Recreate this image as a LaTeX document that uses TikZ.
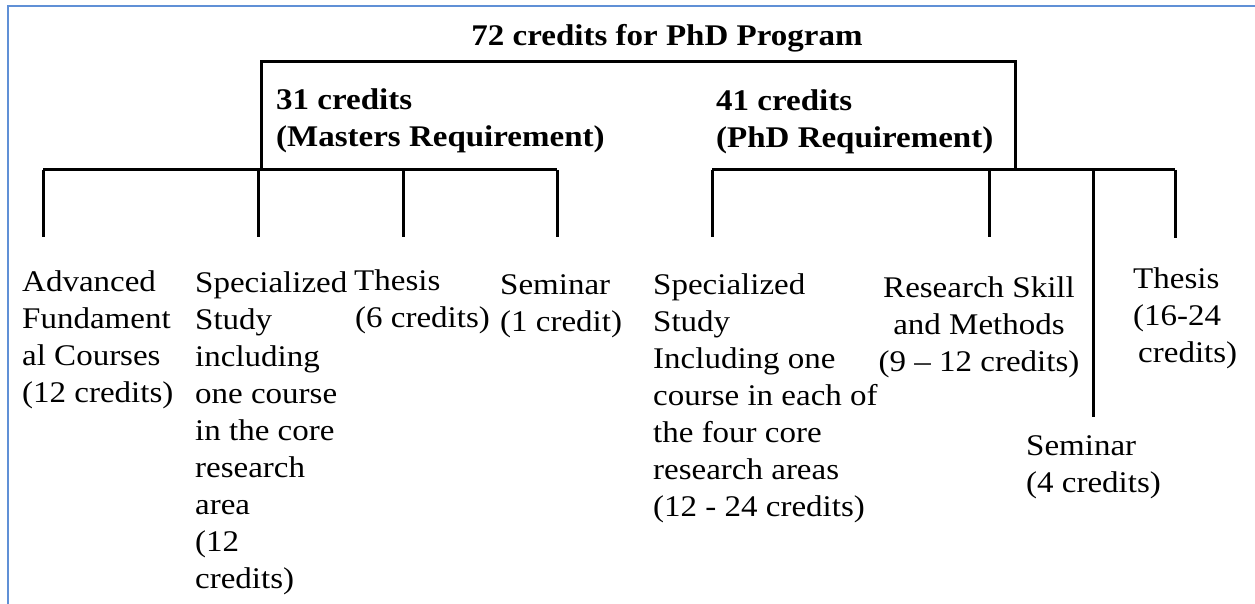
\documentclass[tikz,border=0pt]{standalone}
\usepackage{fontspec}
\setmainfont[FakeStretch=1.1]{Liberation Serif}
\usetikzlibrary{positioning,calc}

\definecolor{frameblue}{RGB}{96,144,214}

\tikzset{
  bar/.style={line width=3pt, line join=miter},
  lbl/.style={font=\fontsize{30}{37}\selectfont, align=left, inner sep=0pt, anchor=base west},
  head/.style={lbl, font=\fontsize{30}{37}\selectfont\bfseries}
}

\begin{document}
\begin{tikzpicture}[x=1pt,y=-1pt]
    \useasboundingbox (0,0) rectangle (1255,604);
    % Frame
    \draw[line width=1.6pt, frameblue] (8,604) -- (8,6) -- (1255,6);

    % Whole program
    \node[head, anchor=base] (prog) at (667,46) {72 credits for PhD Program};
    \coordinate (mtop) at (261,62);
    \coordinate (ptop) at (1015,62);
    \coordinate (mbot) at (261,169);
    \coordinate (pbot) at (1015,169);
    \draw[bar] (mbot) -- (mtop) -- (ptop) -- (pbot);

    % Masters requirement (base = last line)
    \node[head] (mreq) at (276,147) {31 credits\\(Masters Requirement)};
    \foreach \x/\n in {43/1, 258/2, 403/3, 557/4} {
        \coordinate (m\n) at (\x,170);
        \coordinate (m\n end) at (\x,237);
        \draw[bar] (m\n) -- (m\n end);
    }
    \draw[bar] (m1) -- (m4);
    \node[lbl] (afc) at (22,402) {Advanced\\Fundament\\al Courses\\(12 credits)};
    \node[lbl] (mss) at (195,588) {Specialized\\Study\\including\\one course\\in the core\\research\\area\\(12\\credits)};
    \node[lbl] (mth) at (354,327) {Thesis\\\hspace*{1pt}(6 credits)};
    \node[lbl] (msem) at (500,331) {Seminar\\(1 credit)};

    % PhD requirement
    \node[head] (preq) at (716,148) {41 credits\\(PhD Requirement)};
    \foreach \x/\n/\y in {712/1/237, 989/2/237, 1093/3/417, 1175/4/238} {
        \coordinate (p\n) at (\x,170);
        \coordinate (p\n end) at (\x,\y);
        \draw[bar] (p\n) -- (p\n end);
    }
    \draw[bar] (p1) -- (p4);
    \node[lbl] (pss) at (653,516) {Specialized\\Study\\Including one\\course in each of\\the four core\\research areas\\(12 - 24 credits)};
    \node[lbl, align=center, anchor=base] (prsm) at (979,371) {Research Skill\\and Methods\\(9 – 12 credits)};
    \node[lbl] (pth) at (1133,362) {Thesis\\(16-24\\\hspace*{5pt}credits)};
    \node[lbl] (psem) at (1026,492) {Seminar\\(4 credits)};
\end{tikzpicture}
\end{document}
